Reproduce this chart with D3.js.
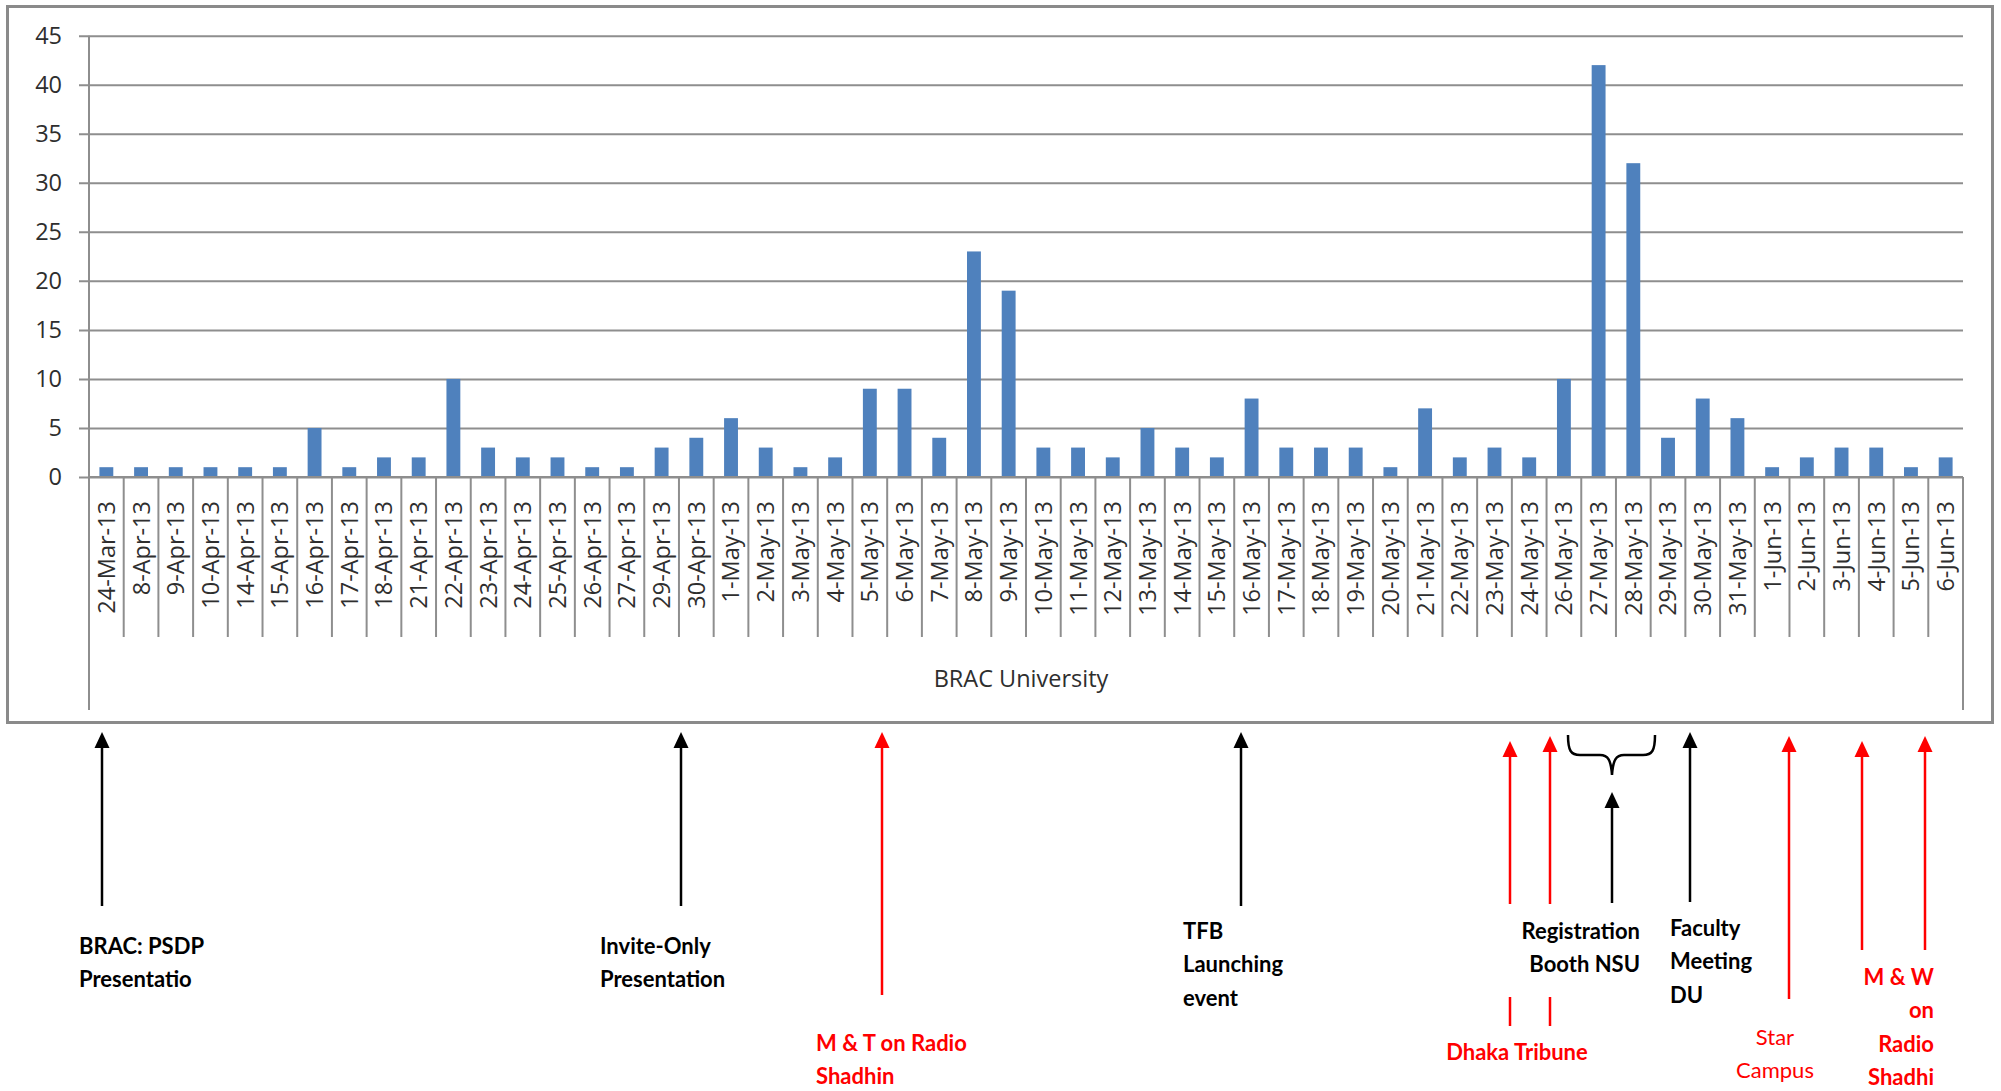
<!DOCTYPE html>
<html>
<head>
<meta charset="utf-8">
<script src="https://cdn.jsdelivr.net/npm/d3@7"></script>
<style>
  html, body { margin: 0; padding: 0; background: #fff; }
  svg { display: block; }
</style>
</head>
<body>
<div id="chart"></div>
<script>
const categories = [
  '24-Mar-13', '8-Apr-13', '9-Apr-13', '10-Apr-13', '14-Apr-13', '15-Apr-13', '16-Apr-13',
  '17-Apr-13', '18-Apr-13', '21-Apr-13', '22-Apr-13', '23-Apr-13', '24-Apr-13', '25-Apr-13',
  '26-Apr-13', '27-Apr-13', '29-Apr-13', '30-Apr-13', '1-May-13', '2-May-13', '3-May-13',
  '4-May-13', '5-May-13', '6-May-13', '7-May-13', '8-May-13', '9-May-13', '10-May-13',
  '11-May-13', '12-May-13', '13-May-13', '14-May-13', '15-May-13', '16-May-13', '17-May-13',
  '18-May-13', '19-May-13', '20-May-13', '21-May-13', '22-May-13', '23-May-13', '24-May-13',
  '26-May-13', '27-May-13', '28-May-13', '29-May-13', '30-May-13', '31-May-13', '1-Jun-13',
  '2-Jun-13', '3-Jun-13', '4-Jun-13', '5-Jun-13', '6-Jun-13'
];
const values = [
  1, 1, 1, 1, 1, 1, 5,
  1, 2, 2, 10, 3, 2, 2,
  1, 1, 3, 4, 6, 3, 1,
  2, 9, 9, 4, 23, 19, 3,
  3, 2, 5, 3, 2, 8, 3,
  3, 3, 1, 7, 2, 3, 2,
  10, 42, 32, 4, 8, 6, 1,
  2, 3, 3, 1, 2
];
const yTicks = [0, 5, 10, 15, 20, 25, 30, 35, 40, 45];
const groupLabel = 'BRAC University';

// callouts drawn under the chart (like shapes laid over the page)
const callouts = [
  { color: '#000', weight: 'bold', anchor: 'start', tx: 79, ty: 946, lines: ['BRAC: PSDP', 'Presentatio'] },
  { color: '#000', weight: 'bold', anchor: 'start', tx: 600, ty: 946, lines: ['Invite-Only', 'Presentation'] },
  { color: '#ff0000', weight: 'bold', anchor: 'start', tx: 816, ty: 1043, lines: ['M & T on Radio', 'Shadhin'] },
  { color: '#000', weight: 'bold', anchor: 'start', tx: 1183, ty: 931, lines: ['TFB', 'Launching', 'event'] },
  { color: '#000', weight: 'bold', anchor: 'end', tx: 1640, ty: 931, lines: ['Registration', 'Booth NSU'] },
  { color: '#ff0000', weight: 'bold', anchor: 'middle', tx: 1517, ty: 1052, lines: ['Dhaka Tribune'] },
  { color: '#000', weight: 'bold', anchor: 'start', tx: 1670, ty: 928, lines: ['Faculty', 'Meeting', 'DU'] },
  { color: '#ff0000', weight: 'normal', anchor: 'middle', tx: 1775, ty: 1037, lines: ['Star', 'Campus'] },
  { color: '#ff0000', weight: 'bold', anchor: 'end', tx: 1934, ty: 977, lines: ['M & W', 'on', 'Radio', 'Shadhi'] }
];
const arrows = [
  { color: '#000', x: 102, tip: 732, end: 906 },
  { color: '#000', x: 681, tip: 732, end: 906 },
  { color: '#ff0000', x: 882, tip: 732, end: 995 },
  { color: '#000', x: 1241, tip: 732, end: 906 },
  { color: '#ff0000', x: 1510, tip: 741, end: 904 },
  { color: '#ff0000', x: 1550, tip: 736, end: 904 },
  { color: '#000', x: 1612, tip: 792, end: 903 },
  { color: '#000', x: 1690, tip: 732, end: 902 },
  { color: '#ff0000', x: 1789, tip: 736, end: 999 },
  { color: '#ff0000', x: 1862, tip: 741, end: 950 },
  { color: '#ff0000', x: 1925, tip: 736, end: 950 }
];

const W = 2001, H = 1091;
const plot = { left: 89, right: 1963, top: 35.7, bottom: 477 };
const gridColor = '#8e8e8e';
const textColor = '#2e2e2e';
const chartFont = '"Open Sans", sans-serif';
const noteFont = 'Lato, "Open Sans", sans-serif';
const labelSize = 23.5;

const svg = d3.select('#chart')
  .append('svg')
  .attr('width', W)
  .attr('height', H)
  .attr('viewBox', `0 0 ${W} ${H}`);

// Chart frame
svg.append('rect')
  .attr('x', 7.5).attr('y', 6.5)
  .attr('width', 1985).attr('height', 716)
  .attr('fill', '#fff')
  .attr('stroke', '#8a8a8a')
  .attr('stroke-width', 3);

const x = d3.scaleBand()
  .domain(categories)
  .range([plot.left, plot.right])
  .paddingInner(0.6)
  .paddingOuter(0.3);

const cell = d3.scaleBand()
  .domain(categories)
  .range([plot.left, plot.right]);

const y = d3.scaleLinear()
  .domain([0, 45])
  .range([plot.bottom, plot.top]);

// Gridlines + y labels
const yAxis = svg.append('g')
  .attr('transform', `translate(${plot.left},0)`)
  .call(d3.axisLeft(y).tickValues(yTicks).tickSizeInner(-(plot.right - plot.left)).tickSizeOuter(0).tickPadding(0).tickFormat(''));
yAxis.select('.domain').remove();
yAxis.selectAll('.tick line')
  .attr('x1', -10)
  .attr('stroke', gridColor)
  .attr('stroke-width', 2);

svg.append('g')
  .selectAll('text')
  .data(yTicks)
  .join('text')
  .attr('x', 62)
  .attr('y', (d) => y(d))
  .attr('dy', '0.36em')
  .attr('text-anchor', 'end')
  .attr('font-family', chartFont)
  .attr('font-size', labelSize)
  .attr('fill', textColor)
  .text((d) => d);

// Bars
svg.append('g')
  .selectAll('rect')
  .data(values)
  .join('rect')
  .attr('x', (d, i) => x(categories[i]))
  .attr('y', (d) => y(d))
  .attr('width', x.bandwidth())
  .attr('height', (d) => y(0) - y(d))
  .attr('fill', '#4f81bd');

// Axis lines
const axisG = svg.append('g')
  .attr('stroke', gridColor)
  .attr('stroke-width', 2);

axisG.append('line')
  .attr('x1', plot.left).attr('x2', plot.left)
  .attr('y1', plot.top).attr('y2', 710);

axisG.append('line')
  .attr('x1', plot.right).attr('x2', plot.right)
  .attr('y1', plot.bottom).attr('y2', 710);

axisG.append('line')
  .attr('x1', plot.left).attr('x2', plot.right)
  .attr('y1', plot.bottom).attr('y2', plot.bottom);

axisG.selectAll('.sep')
  .data(categories.slice(1))
  .join('line')
  .attr('class', 'sep')
  .attr('x1', (d) => cell(d)).attr('x2', (d) => cell(d))
  .attr('y1', plot.bottom).attr('y2', 637);

// Category labels
svg.append('g')
  .selectAll('text')
  .data(categories)
  .join('text')
  .attr('transform', (d) => `translate(${cell(d) + cell.bandwidth() / 2},501) rotate(-90)`)
  .attr('dy', '0.36em')
  .attr('text-anchor', 'end')
  .attr('font-family', chartFont)
  .attr('font-size', labelSize)
  .attr('fill', textColor)
  .text((d) => d);

svg.append('text')
  .attr('x', 1021)
  .attr('y', 679)
  .attr('dy', '0.36em')
  .attr('text-anchor', 'middle')
  .attr('font-family', chartFont)
  .attr('font-size', labelSize)
  .attr('fill', textColor)
  .text(groupLabel);

// Arrows
const arrowG = svg.append('g');
arrows.forEach((a) => {
  arrowG.append('line')
    .attr('x1', a.x).attr('x2', a.x)
    .attr('y1', a.tip + 12).attr('y2', a.end)
    .attr('stroke', a.color)
    .attr('stroke-width', 2.5);
  arrowG.append('path')
    .attr('d', `M${a.x},${a.tip} L${a.x - 7.5},${a.tip + 16} L${a.x + 7.5},${a.tip + 16} Z`)
    .attr('fill', a.color);
});

// Short red stubs under the Dhaka Tribune arrows
[1510, 1550].forEach((sx) => {
  arrowG.append('line')
    .attr('x1', sx).attr('x2', sx)
    .attr('y1', 997).attr('y2', 1026)
    .attr('stroke', '#ff0000')
    .attr('stroke-width', 2.5);
});

// Brace over 27-28 May
arrowG.append('path')
  .attr('d', 'M1568,735 C1568,751 1571,755 1580,755 L1600,755 C1608,755 1611,760 1612,775 C1613,760 1616,755 1624,755 L1643,755 C1652,755 1655,751 1655,735')
  .attr('fill', 'none')
  .attr('stroke', '#000')
  .attr('stroke-width', 2.5);

// Callout text
callouts.forEach((c) => {
  const t = svg.append('text')
    .attr('font-family', noteFont)
    .attr('font-size', 22)
    .attr('font-weight', c.weight)
    .attr('fill', c.color)
    .attr('text-anchor', c.anchor);
  c.lines.forEach((line, i) => {
    t.append('tspan')
      .attr('x', c.tx)
      .attr('y', c.ty + i * 33.5)
      .attr('dy', '0.36em')
      .text(line);
  });
});
</script>
</body>
</html>
